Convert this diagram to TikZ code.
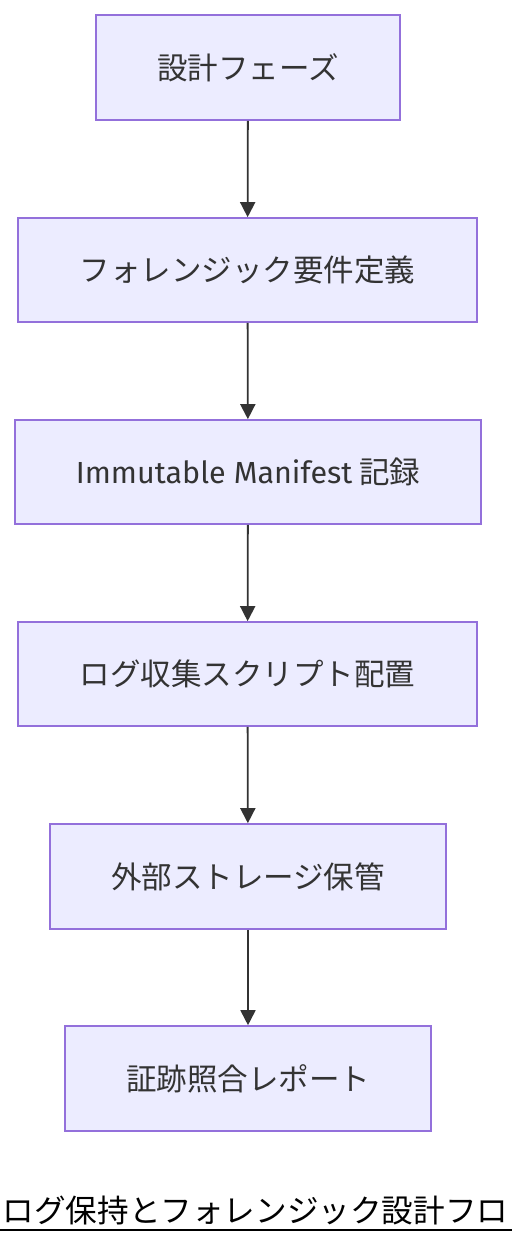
\documentclass[tikz,border=0pt]{standalone}
\usepackage{fontspec}
\setmainfont{Noto Sans CJK JP}
\newfontfamily\latin{Fira Sans}
\usetikzlibrary{arrows.meta}
\definecolor{nodefill}{HTML}{ECECFF}
\definecolor{nodeline}{HTML}{9370DB}
\definecolor{txt}{HTML}{333333}
\tikzset{
  stepbox/.style={draw=nodeline, fill=nodefill, line width=1.6pt, text=txt, font=\fontsize{30.5}{36}\selectfont, inner sep=0pt, anchor=center},
  flow/.style={draw=txt, line width=1.8pt, -{Triangle[width=15pt,length=15pt]}}
}
\begin{document}
\begin{tikzpicture}[x=1pt,y=1pt]
\useasboundingbox (0,0) rectangle (512,1244);
\node[stepbox, minimum width=304pt, minimum height=105pt] (a) at (248,1244-67.5) {設計フェーズ};
\node[stepbox, minimum width=459pt, minimum height=104pt] (b) at (247.5,1244-270) {フォレンジック要件定義};
\node[stepbox, minimum width=466pt, minimum height=104pt] (c) at (248,1244-472) {{\latin Immutable Manifest} 記録};
\node[stepbox, minimum width=459pt, minimum height=104pt] (d) at (247.5,1244-674) {ログ収集スクリプト配置};
\node[stepbox, minimum width=396pt, minimum height=105pt] (e) at (248,1244-876.5) {外部ストレージ保管};
\node[stepbox, minimum width=366pt, minimum height=105pt] (f) at (248,1244-1078.5) {証跡照合レポート};
\draw[flow] (a) -- (b);
\draw[flow] (b) -- (c);
\draw[flow] (c) -- (d);
\draw[flow] (d) -- (e);
\draw[flow] (e) -- (f);
\node[anchor=base west, inner sep=0pt, font=\fontsize{31.6}{36}\selectfont] (title) at (2.5,1244-1223) {ログ保持とフォレンジック設計フロ};
\coordinate (ul) at (0,1244-1230);
\coordinate (ur) at (512,1244-1230);
\draw[line width=2pt] (ul) -- (ur);
\end{tikzpicture}
\end{document}
